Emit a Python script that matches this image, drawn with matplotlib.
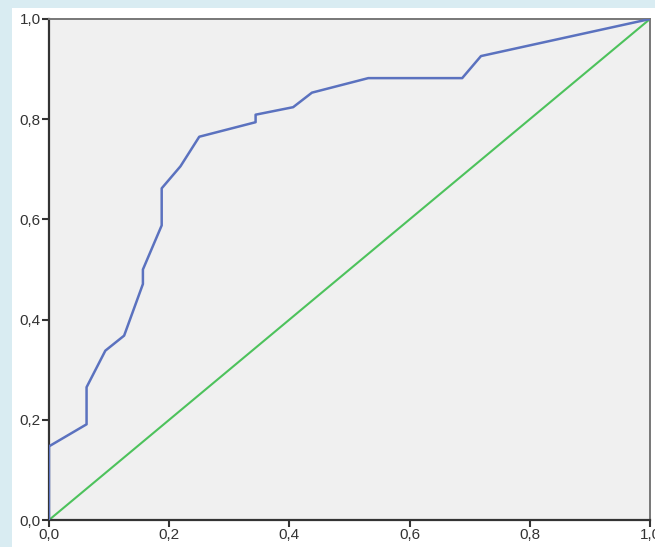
import matplotlib
matplotlib.use("Agg")
import matplotlib.pyplot as plt
from matplotlib.patches import Rectangle
from matplotlib.ticker import FuncFormatter

# ROC curve points (1 - specificity, sensitivity)
fpr = [0.0, 0.0, 0.0625, 0.0625, 0.09375, 0.125, 0.15625, 0.15625, 0.1875, 0.1875,
       0.21875, 0.25, 0.34375, 0.34375, 0.40625, 0.4375, 0.53125, 0.6875, 0.71875, 1.0]
tpr = [0.0, 0.147, 0.191, 0.265, 0.338, 0.368, 0.471, 0.5, 0.588, 0.662,
       0.706, 0.765, 0.794, 0.809, 0.824, 0.853, 0.882, 0.882, 0.926, 1.0]
ref_line = [0.0, 1.0]
ticks = [0.0, 0.2, 0.4, 0.6, 0.8, 1.0]

plt.rcParams["font.family"] = ["Liberation Sans", "DejaVu Sans"]

fig = plt.figure(figsize=(6.55, 5.47), dpi=100)
fig.patch.set_facecolor("#d9ecf2")
# white panel behind the chart
panel = Rectangle((12 / 655, 0), 1, (547 - 8) / 547, transform=fig.transFigure,
                  facecolor="white", edgecolor="none", zorder=-10)
fig.add_artist(panel)

ax = fig.add_axes([49 / 655, 27 / 547, 601 / 655, 501 / 547])
ax.set_zorder(1)
ax.set_facecolor("#f0f0f0")

ax.plot(ref_line, ref_line, color="#4dc25c", lw=1.5, zorder=2)
ax.plot(fpr, tpr, color="#5b72bf", lw=1.8, zorder=3)

ax.set_xlim(0, 1)
ax.set_ylim(0, 1)
ax.set_xticks(ticks)
ax.set_yticks(ticks)
fmt = FuncFormatter(lambda v, p: f"{v:.1f}".replace(".", ","))
ax.xaxis.set_major_formatter(fmt)
ax.yaxis.set_major_formatter(fmt)
ax.tick_params(axis="both", length=5, width=1.5, color="#333333",
               labelsize=11, labelcolor="#333333", pad=1)

for side in ["left", "bottom"]:
    ax.spines[side].set_color("#333333")
    ax.spines[side].set_linewidth(1.6)
for side in ["top", "right"]:
    ax.spines[side].set_color("#777777")
    ax.spines[side].set_linewidth(1.4)

fig.savefig("out.png", dpi=100, facecolor=fig.get_facecolor())
